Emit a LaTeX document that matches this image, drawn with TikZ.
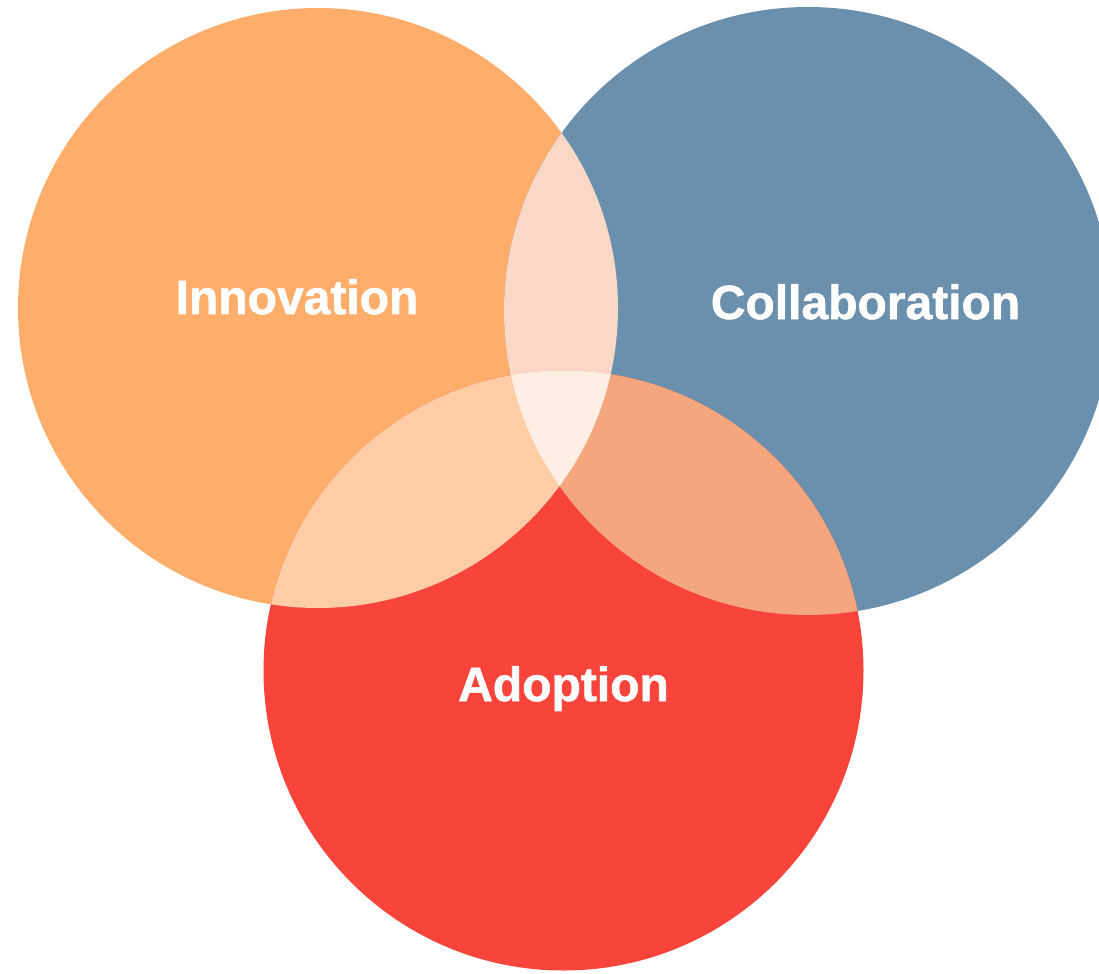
\documentclass[tikz,border=0pt]{standalone}
\usepackage{fontspec}
\setmainfont[BoldFeatures={FakeBold=1.2}]{Liberation Sans}
\usetikzlibrary{positioning}
\definecolor{innoorange}{HTML}{FFAD6B}
\definecolor{collablue}{HTML}{6B90AD}
\definecolor{adopred}{HTML}{F9443B}
\definecolor{icmix}{HTML}{FAD8C5}
\definecolor{iamix}{HTML}{FECCA5}
\definecolor{camix}{HTML}{F4A77F}
\definecolor{allmix}{HTML}{FFEEE3}
\tikzset{setname/.style = {text = white, inner sep = 0, anchor = base,
                           font = \fontsize{24}{28}\selectfont\bfseries}}

\begin{document}
\begin{tikzpicture}[x=0.5pt, y=-0.5pt]
      \useasboundingbox (0, 0) rectangle (1099, 974);
      \coordinate (inno) at (318, 308);
      \coordinate (colla) at (808, 311);
      \coordinate (adop) at (563.5, 670.5);
      \def\rad{150pt}
      \def\radb{152pt}

      % the three sets
      \fill [innoorange] (inno) circle (\rad);
      \fill [collablue] (colla) circle (\radb);
      \fill [adopred] (adop) circle (\rad);

      % pairwise overlaps
      \begin{scope}
        \clip (inno) circle (\rad);
        \fill [icmix] (colla) circle (\radb);
        \fill [iamix] (adop) circle (\rad);
      \end{scope}
      \begin{scope}
        \clip (colla) circle (\radb);
        \fill [camix] (adop) circle (\rad);
      \end{scope}

      % middle part
      \begin{scope}
        \clip (inno) circle (\rad);
        \clip (colla) circle (\radb);
        \fill [allmix] (adop) circle (\rad);
      \end{scope}

      \node (innolabel) at (297, 314) [setname] {Innovation};
      \node (collalabel) at (865.5, 319) [setname] {Collaboration};
      \node (adoplabel) at (563.5, 701) [setname] {Adoption};
    \end{tikzpicture}
\end{document}
